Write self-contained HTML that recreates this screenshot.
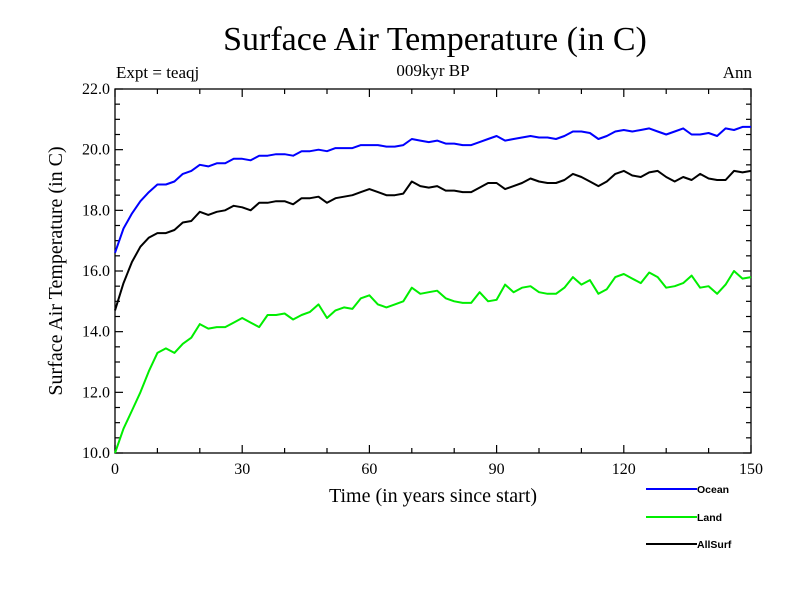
<!DOCTYPE html>
<html><head><meta charset="utf-8">
<style>
html,body{margin:0;padding:0;background:#fff;}
svg{display:block;font-family:"Liberation Serif",serif;}
</style></head>
<body>
<svg id="chart" width="800" height="600" viewBox="0 0 800 600">
<rect width="800" height="600" fill="#fff"/>
<text x="435" y="50" font-size="34" text-anchor="middle">Surface Air Temperature (in C)</text>
<text x="116" y="78" font-size="17">Expt = teaqj</text>
<text x="433" y="76" font-size="17" text-anchor="middle">009kyr BP</text>
<text x="752" y="78" font-size="17" text-anchor="end">Ann</text>
<text x="433" y="502" font-size="20" text-anchor="middle">Time (in years since start)</text>
<text transform="translate(62,271) rotate(-90)" font-size="20" text-anchor="middle">Surface Air Temperature (in C)</text>
<g id="axes"></g>
<g id="series"></g>
<g id="legend"></g>
</svg>
<script>
const years = [];
for (let i = 0; i <= 150; i += 2) years.push(i);
const oceanValues = [16.6,17.4,17.9,18.3,18.6,18.85,18.85,18.95,19.2,19.3,19.5,19.45,19.55,19.55,19.7,19.7,19.65,19.8,19.8,19.85,19.85,19.8,19.95,19.95,20.0,19.95,20.05,20.05,20.05,20.15,20.15,20.15,20.1,20.1,20.15,20.35,20.3,20.25,20.3,20.2,20.2,20.15,20.15,20.25,20.35,20.45,20.3,20.35,20.4,20.45,20.4,20.4,20.35,20.45,20.6,20.6,20.55,20.35,20.45,20.6,20.65,20.6,20.65,20.7,20.6,20.5,20.6,20.7,20.5,20.5,20.55,20.45,20.7,20.65,20.75,20.75];
const landValues = [10.0,10.8,11.4,12.0,12.7,13.3,13.45,13.3,13.6,13.8,14.25,14.1,14.15,14.15,14.3,14.45,14.3,14.15,14.55,14.55,14.6,14.4,14.55,14.65,14.9,14.45,14.7,14.8,14.75,15.1,15.2,14.9,14.8,14.9,15.0,15.45,15.25,15.3,15.35,15.1,15.0,14.95,14.95,15.3,15.0,15.05,15.55,15.3,15.45,15.5,15.3,15.25,15.25,15.45,15.8,15.55,15.7,15.25,15.4,15.8,15.9,15.75,15.6,15.95,15.8,15.45,15.5,15.6,15.85,15.45,15.5,15.25,15.55,16.0,15.75,15.8];
const allSurfValues = [14.7,15.6,16.3,16.8,17.1,17.25,17.25,17.35,17.6,17.65,17.95,17.85,17.95,18.0,18.15,18.1,18.0,18.25,18.25,18.3,18.3,18.2,18.4,18.4,18.45,18.25,18.4,18.45,18.5,18.6,18.7,18.6,18.5,18.5,18.55,18.95,18.8,18.75,18.8,18.65,18.65,18.6,18.6,18.75,18.9,18.9,18.7,18.8,18.9,19.05,18.95,18.9,18.9,19.0,19.2,19.1,18.95,18.8,18.95,19.2,19.3,19.15,19.1,19.25,19.3,19.1,18.95,19.1,19.0,19.2,19.05,19.0,19.0,19.3,19.25,19.3];
const xTickLabels = ["0","30","60","90","120","150"];
const yTickLabels = ["10.0","12.0","14.0","16.0","18.0","20.0","22.0"];
const seriesNames = ["Ocean","Land","AllSurf"];
const seriesColors = ["#0000ff","#00ee00","#000000"];

const X0=115,X1=751,Y0=453,Y1=89, XMIN=0,XMAX=150,YMIN=10,YMAX=22;
const xs = v => X0 + (v-XMIN)/(XMAX-XMIN)*(X1-X0);
const ys = v => Y0 - (v-YMIN)/(YMAX-YMIN)*(Y0-Y1);
const NS="http://www.w3.org/2000/svg";
function mk(tag, attrs, parent){const e=document.createElementNS(NS,tag);for(const k in attrs)e.setAttribute(k,attrs[k]);parent.appendChild(e);return e;}
const axes=document.getElementById('axes');
const frame=mk('rect',{x:X0,y:Y1,width:X1-X0,height:Y0-Y1,fill:'none',stroke:'#000','stroke-width':1.3},axes);


for(let v=0; v<=150; v+=10){
  const len = v%30===0?8:5;
  const x=xs(v);
  const t1=mk('line',{x1:x,x2:x,y1:Y0,y2:Y0-len,stroke:'#000','stroke-width':1.2},axes);
  
  
  const t2=mk('line',{x1:x,x2:x,y1:Y1,y2:Y1+len,stroke:'#000','stroke-width':1.2},axes);
  
  
}
xTickLabels.forEach(s=>{
  const t=mk('text',{x:xs(+s),y:Y0+21,'font-size':16,'text-anchor':'middle'},axes);
  t.textContent=s;
  
  
});
for(let v=10; v<=22.001; v+=0.5){
  const len = Math.abs(v%2)<0.01?8:5;
  const y=ys(v);
  const t1=mk('line',{x1:X0,x2:X0+len,y1:y,y2:y,stroke:'#000','stroke-width':1.2},axes);
  
  
  const t2=mk('line',{x1:X1,x2:X1-len,y1:y,y2:y,stroke:'#000','stroke-width':1.2},axes);
  
  
}
yTickLabels.forEach(s=>{
  const t=mk('text',{x:X0-5,y:ys(+s)+5,'font-size':16,'text-anchor':'end'},axes);
  t.textContent=s;
  
  
});
const seriesG=document.getElementById('series');
[oceanValues,landValues,allSurfValues].forEach((vals,i)=>{
  const d=vals.map((v,j)=>(j?'L':'M')+xs(years[j]).toFixed(1)+','+ys(v).toFixed(1)).join('');
  const p=mk('path',{d:d,fill:'none',stroke:seriesColors[i],'stroke-width':2,'stroke-linejoin':'round'},seriesG);
  
  
});
const leg=document.getElementById('legend');
const legY=[489,517,544];
seriesNames.forEach((n,i)=>{
  const l=mk('line',{x1:646,x2:697,y1:legY[i],y2:legY[i],stroke:seriesColors[i],'stroke-width':2},leg);
  
  
  const t=mk('text',{x:697,y:legY[i]+4,'font-size':10.5,'font-weight':'bold','font-family':'Liberation Sans, sans-serif'},leg);
  t.textContent=n;
  
  
});
</script>
</body></html>
